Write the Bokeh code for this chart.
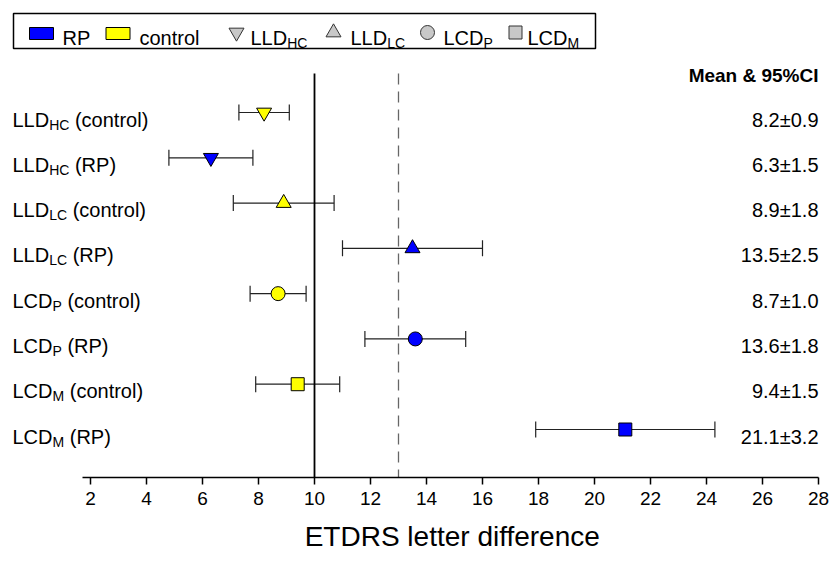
from bokeh.plotting import figure
from bokeh.models import ColumnDataSource, Whisker, TeeHead, FixedTicker, Range1d, Title
from bokeh.core.properties import value
from bokeh.embed import file_html
from bokeh.resources import INLINE

# ---------------- data ----------------
measure_main = ["LLD", "LLD", "LLD", "LLD", "LCD", "LCD", "LCD", "LCD"]
measure_sub = ["HC", "HC", "LC", "LC", "P", "P", "M", "M"]
groups = ["control", "RP", "control", "RP", "control", "RP", "control", "RP"]
means = [8.2, 6.3, 8.9, 13.5, 8.7, 13.6, 9.4, 21.1]
ci95 = [0.9, 1.5, 1.8, 2.5, 1.0, 1.8, 1.5, 3.2]
markers = ["inverted_triangle", "inverted_triangle", "triangle", "triangle",
           "circle", "circle", "square", "square"]
tick_values = [2, 4, 6, 8, 10, 12, 14, 16, 18, 20, 22, 24, 26, 28]
ref_solid = 10
ref_dashed = 13
legend_groups = ["RP", "control"]
legend_measures = [("LLD", "HC", "inverted_triangle"), ("LLD", "LC", "triangle"),
                   ("LCD", "P", "circle"), ("LCD", "M", "square")]
x_title = "ETDRS letter difference"
value_header = "Mean & 95%CI"

# ---------------- layout / style ----------------
FONT = value("Liberation Sans")
BLUE = "#0000FF"
YELLOW = "#FFFF00"
GROUP_COLOR = {"RP": BLUE, "control": YELLOW}
MARKER_SIZE = {"inverted_triangle": 15, "triangle": 15, "circle": 14, "square": 13}

W, H = 829, 563
FRAME_BOTTOM = 477
X2, X28 = 90, 818
sx = (X28 - X2) / 26.0
xs0 = 2 - X2 / sx
xs1 = 28 + (W - X28) / sx
ROW_TOP, ROW_BOT = 112, 429
sy = (ROW_BOT - ROW_TOP) / 7.0
ys1 = 8 + ROW_TOP / sy
ys0 = 1 - (FRAME_BOTTOM - ROW_BOT) / sy


def dx(cx):
    return xs0 + cx / sx


def dy(cy):
    return ys1 - cy / sy


# Arial / Liberation Sans advance widths (per 1000 em)
AW = {"L": 556, "D": 722, "C": 722, "P": 667, "M": 833, "H": 722, "R": 722,
      " ": 278, "(": 333, ")": 333, "c": 500, "o": 556, "n": 556, "t": 278,
      "r": 333, "l": 222, "E": 667, "T": 611, "S": 667, "e": 556, "d": 556,
      "i": 222, "f": 278}


def tw(s, size):
    return sum(AW.get(ch, 556) for ch in s) * size / 1000.0


MAIN_FS, SUB_FS = 20, 14
TITLE_FS = 28

p = figure(width=W, height=H, x_range=Range1d(xs0, xs1), y_range=Range1d(ys0, ys1),
           output_backend="svg", toolbar_location=None, y_axis_location=None,
           min_border_left=0, min_border_right=0, min_border_top=0,
           min_border_bottom=H - FRAME_BOTTOM)
p.outline_line_color = None
p.xgrid.visible = False
p.ygrid.visible = False
p.background_fill_color = "white"
p.border_fill_color = "white"

ax = p.xaxis[0]
ax.ticker = FixedTicker(ticks=tick_values)
ax.bounds = (1.7, 28)
ax.axis_line_width = 1.5
ax.axis_line_color = "black"
ax.major_tick_in = 0
ax.major_tick_out = 7
ax.major_tick_line_width = 1.5
ax.minor_tick_out = 0
ax.minor_tick_in = 0
ax.major_label_text_font = "Liberation Sans"
ax.major_label_text_font_size = "19px"
ax.major_label_text_color = "black"
ax.major_label_standoff = 7

# x title centred under the drawn axis (centre at x=452 px)
title_left = 452 - tw(x_title, TITLE_FS) / 2
xt = Title(text=x_title, align="left", offset=title_left, text_font="Liberation Sans",
           text_font_size="%dpx" % TITLE_FS, text_font_style="normal",
           text_color="black", standoff=22, vertical_align="bottom")
p.add_layout(xt, "below")

# rows
n = len(means)
row_y = [8 - i for i in range(n)]
src = ColumnDataSource(dict(
    y=row_y, mean=means,
    lo=[m - c for m, c in zip(means, ci95)],
    hi=[m + c for m, c in zip(means, ci95)],
    marker=markers,
    size=[MARKER_SIZE[m] for m in markers],
    color=[GROUP_COLOR[g] for g in groups],
    val=["%.1f±%.1f" % (m, c) for m, c in zip(means, ci95)],
))

# reference lines
p.segment(x0=[ref_solid], y0=[dy(73)], x1=[ref_solid], y1=[ys0],
          line_color="black", line_width=1.8)
p.segment(x0=[ref_dashed], y0=[dy(73)], x1=[ref_dashed], y1=[ys0],
          line_color="#666666", line_width=1.3, line_dash="11 7")

wh = Whisker(base="y", lower="lo", upper="hi", dimension="width", source=src,
             line_color="#222222", line_width=1.2, level="underlay",
             lower_head=TeeHead(size=16, line_color="#222222", line_width=1.2),
             upper_head=TeeHead(size=16, line_color="#222222", line_width=1.2))
p.add_layout(wh)

p.scatter(x="mean", y="y", marker="marker", size="size", fill_color="color",
          line_color="black", line_width=1, source=src)

# row labels with subscripts
mx, my, mt = [], [], []
sxl, syl, stt = [], [], []
for i in range(n):
    x_start = 12
    mx.append(dx(x_start)); my.append(row_y[i]); mt.append(measure_main[i])
    xsub = x_start + tw(measure_main[i], MAIN_FS)
    sxl.append(dx(xsub)); syl.append(row_y[i]); stt.append(measure_sub[i])
    xrest = xsub + tw(measure_sub[i], SUB_FS) + tw(" ", MAIN_FS)
    mx.append(dx(xrest)); my.append(row_y[i]); mt.append("(" + groups[i] + ")")
p.text(x=mx, y=my, text=mt, text_font=FONT, text_font_size="%dpx" % MAIN_FS,
       text_baseline="alphabetic", text_align="left", y_offset=7, text_color="black")
p.text(x=sxl, y=syl, text=stt, text_font=FONT, text_font_size="%dpx" % SUB_FS,
       text_baseline="alphabetic", text_align="left", y_offset=12, text_color="black")

# values column
p.text(x=dx(818), y="y", text="val", source=src, text_font=FONT,
       text_font_size="20px", text_baseline="alphabetic", text_align="right",
       y_offset=7, text_color="black")
p.text(x=[dx(818)], y=[dy(75)], text=[value_header], text_font=FONT,
       text_font_size="19px", text_font_style="bold", text_baseline="alphabetic",
       text_align="right", text_color="black")

# legend box
p.quad(left=[dx(13)], right=[dx(595)], top=[dy(13)], bottom=[dy(48)],
       fill_color="white", line_color="black", line_width=1.5)
rect_x = [41, 117.5]
text_x = [62, 139]
p.rect(x=[dx(c) for c in rect_x], y=[dy(33)] * 2, width=24, height=12,
       width_units="screen", height_units="screen",
       fill_color=[GROUP_COLOR[g] for g in legend_groups], line_color="black", line_width=1)
p.text(x=[dx(c) for c in text_x], y=[dy(37)] * 2, text=legend_groups, text_font=FONT,
       text_font_size="20px", text_baseline="alphabetic", text_align="left",
       text_color="black")
shape_x = [236, 333, 427, 515]
ltext_x = [250, 350, 443, 527]
p.scatter(x=[dx(c) for c in shape_x], y=[dy(32)] * 4,
          marker=[m[2] for m in legend_measures],
          size=[MARKER_SIZE[m[2]] for m in legend_measures],
          fill_color="#C8C8C8", line_color="#333333", line_width=1)
lmx, lmt, lsx, lst = [], [], [], []
for (mm, ss, _), cx in zip(legend_measures, ltext_x):
    lmx.append(dx(cx)); lmt.append(mm)
    lsx.append(dx(cx + tw(mm, MAIN_FS))); lst.append(ss)
p.text(x=lmx, y=[dy(37)] * 4, text=lmt, text_font=FONT, text_font_size="20px",
       text_baseline="alphabetic", text_align="left", text_color="black")
p.text(x=lsx, y=[dy(42)] * 4, text=lst, text_font=FONT, text_font_size="14px",
       text_baseline="alphabetic", text_align="left", text_color="black")

open("out.html", "w").write(file_html(p, INLINE))
